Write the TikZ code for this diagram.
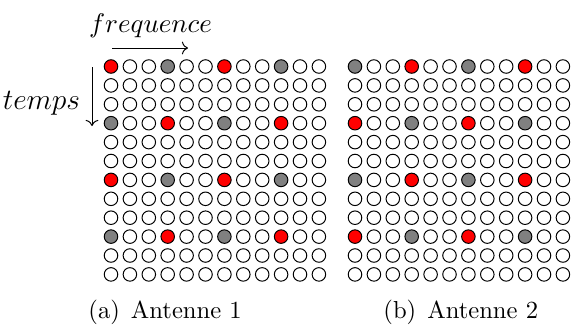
\documentclass[tikz,border=0pt]{standalone}
\usepackage{amsmath,amssymb}
\usepackage{tikz}
\usetikzlibrary{arrows,arrows.meta}

\begin{document}
\begin{tikzpicture}[
x=0.4065pt, y=-0.4065pt,
cell/.style={circle,draw=black,line width=0.4pt,minimum size=5.5pt,inner sep=0pt},
cell0/.style={cell,fill=white},
cell1/.style={cell,fill=red},
cell2/.style={cell,fill=gray},
axislabel/.style={inner sep=0pt},
caption/.style={anchor=base west,inner sep=0pt},
arrow/.style={->,line width=0.4pt} ]

\useasboundingbox (0,0) rectangle (571,325);

% grilles temps/frequence des deux antennes
\foreach \r in {0,...,11}
  \foreach \c in {0,...,11} {
    \pgfmathtruncatemacro{\pil}{and(mod(\r,3)==0,mod(\c,3)==0)}
    \pgfmathtruncatemacro{\odd}{mod(int((\r+\c)/3),2)}
    \pgfmathtruncatemacro{\ka}{\pil*(1+\odd)}
    \pgfmathtruncatemacro{\kb}{\pil*(2-\odd)}
    \node[cell\ka](a-\r-\c) at ({111+18.9*\c},{66.5+18.9*\r}) {};
    \node[cell\kb](b-\r-\c) at ({355+18.9*\c},{66.5+18.9*\r}) {};
  }

\node[axislabel](F) at (150.5,25.5) {\fontsize{10.6}{12}\selectfont$frequence$};
\node[axislabel](T) at (41.5,103.5) {\fontsize{11.6}{13}\selectfont$temps$};

\coordinate (F1) at (112,48);
\coordinate (F2) at (188,48);
\coordinate (T1) at (92,67);
\coordinate (T2) at (92,126);

\draw[arrow] (F1) -- (F2);
\draw[arrow] (T1) -- (T2);

\node[caption](CA) at (88,318) {(a)\hspace{0.45em}Antenne 1};
\node[caption](CB) at (383,318) {(b)\hspace{0.45em}Antenne 2};

\end{tikzpicture}
\end{document}
